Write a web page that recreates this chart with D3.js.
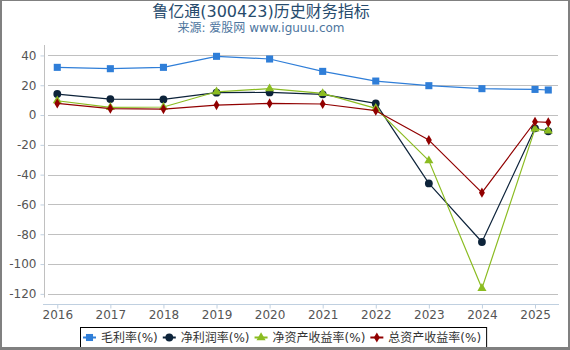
<!DOCTYPE html>
<html>
<head>
<meta charset="utf-8">
<script src="https://cdn.jsdelivr.net/npm/d3@7/dist/d3.min.js"></script>
<style>
  body { margin: 0; background: #fff; }
  svg { display: block; font-family: "DejaVu Sans", "Noto Sans CJK SC", sans-serif; }
</style>
</head>
<body>
<div id="chart-area"></div>
<script>
// Data
const periods = [2016, 2017, 2018, 2019, 2020, 2021, 2022, 2023, 2024, 2025, 2025.25];
const grossMargin = [32.0, 31.1, 32.0, 39.4, 37.6, 29.3, 22.8, 19.7, 17.7, 17.2, 16.8];
const netMargin = [14.1, 10.7, 10.5, 15.0, 15.2, 13.9, 7.8, -45.9, -85.2, -8.9, -10.9];
const roe = [9.6, 5.2, 5.4, 15.6, 17.7, 14.5, 4.5, -30.6, -116.3, -9.3, -10.6];
const roa = [7.8, 4.3, 4.0, 6.7, 7.8, 7.4, 2.9, -16.8, -52.1, -4.5, -4.9];
const yearTicks = [2016, 2017, 2018, 2019, 2020, 2021, 2022, 2023, 2024, 2025];
const valueTicks = [-120, -100, -80, -60, -40, -20, 0, 20, 40];

const series = [
    { name: '毛利率(%)', values: grossMargin, color: '#2f7ed8', symbol: 'square' },
    { name: '净利润率(%)', values: netMargin, color: '#0d233a', symbol: 'circle' },
    { name: '净资产收益率(%)', values: roe, color: '#8bbc21', symbol: 'triangle' },
    { name: '总资产收益率(%)', values: roa, color: '#910000', symbol: 'diamond' }
];

const W = 570, H = 350;
const plot = { left: 44, right: 558, top: 45, bottom: 304 };

const svg = d3.select('#chart-area')
    .append('svg')
        .attr('width', W)
        .attr('height', H);

// Scales
const x = d3.scaleLinear()
    .domain([2015.75, 2025.433])
    .range([plot.left, plot.right]);

const y = d3.scaleLinear()
    .domain([-126.8, 47])
    .range([plot.bottom, plot.top]);

// Title
svg.append('text')
    .attr('x', 261)
    .attr('y', 17)
    .attr('text-anchor', 'middle')
    .attr('font-size', '16px')
    .attr('fill', '#274b6d')
    .text('鲁亿通(300423)历史财务指标');

svg.append('text')
    .attr('x', 261)
    .attr('y', 32)
    .attr('text-anchor', 'middle')
    .attr('font-size', '12px')
    .attr('fill', '#4d759e')
    .text('来源: 爱股网 www.iguuu.com');

// Grid lines
svg.append('g')
    .selectAll('line')
    .data(valueTicks)
    .enter()
    .append('line')
        .attr('x1', plot.left + 4)
        .attr('x2', plot.right)
        .attr('y1', (d) => Math.round(y(d)) + 0.5)
        .attr('y2', (d) => Math.round(y(d)) + 0.5)
        .attr('stroke', '#c0c0c0')
        .attr('stroke-width', 1);

// Y axis
const yAxisGroup = svg.append('g')
    .attr('transform', 'translate(' + (plot.left + 0.5) + ', 0)')
    .call(d3.axisLeft(y)
        .tickValues(valueTicks)
        .tickFormat((d) => String(d))
        .tickSize(4)
        .tickPadding(4));
yAxisGroup.select('.domain').remove();
yAxisGroup.selectAll('.tick line').attr('stroke', '#c0d0e0');
yAxisGroup.selectAll('.tick text')
    .attr('font-size', '12px')
    .attr('font-family', '"DejaVu Sans", sans-serif')
    .attr('fill', '#555');
yAxisGroup.append('line')
    .attr('x1', 0).attr('x2', 0)
    .attr('y1', y(47)).attr('y2', y(-122.5))
    .attr('stroke', '#c0c0c0');

// X axis
const xAxisGroup = svg.append('g')
    .attr('transform', 'translate(0, ' + (plot.bottom + 0.5) + ')')
    .call(d3.axisBottom(x)
        .tickValues(yearTicks)
        .tickFormat(d3.format('d'))
        .tickSize(4)
        .tickSizeOuter(0)
        .tickPadding(2));
xAxisGroup.select('.domain')
    .attr('stroke', '#c0d0e0')
    .attr('d', 'M' + (plot.left - 1) + ',0H' + (plot.right + 1));
xAxisGroup.selectAll('.tick line').attr('stroke', '#c0d0e0');
xAxisGroup.selectAll('.tick text')
    .attr('font-size', '12px')
    .attr('font-family', '"DejaVu Sans", sans-serif')
    .attr('fill', '#555');

// Symbols
const symbolType = {
    square: d3.symbolSquare,
    circle: d3.symbolCircle,
    triangle: d3.symbolTriangle,
    diamond: d3.symbolDiamond
};
const symbolSize = { square: 50, circle: 48, triangle: 36, diamond: 30 };

const line = d3.line()
    .x((d) => x(d.x))
    .y((d) => y(d.v));

// Series
series.forEach((s) => {
    const pts = periods.map((p, i) => ({ x: p, v: s.values[i] }));
    const g = svg.append('g');

    g.append('path')
        .datum(pts)
        .attr('fill', 'none')
        .attr('stroke', s.color)
        .attr('stroke-width', 1.2)
        .attr('stroke-linejoin', 'round')
        .attr('d', line);

    g.selectAll('path.marker')
        .data(pts)
        .enter()
        .append('path')
            .attr('class', 'marker')
            .attr('transform', (d) => 'translate(' + x(d.x) + ',' + y(d.v) + ')')
            .attr('d', d3.symbol().type(symbolType[s.symbol]).size(symbolSize[s.symbol]))
            .attr('fill', s.color);
});

// Legend
const legend = svg.append('g');
const legendBox = legend.append('rect')
    .attr('x', 80.5)
    .attr('y', 327.5)
    .attr('height', 22)
    .attr('fill', '#fff')
    .attr('stroke', '#000')
    .attr('stroke-width', 1);

let lx = 83;
series.forEach((s) => {
    legend.append('line')
        .attr('x1', lx).attr('x2', lx + 13)
        .attr('y1', 337.5).attr('y2', 337.5)
        .attr('stroke', s.color)
        .attr('stroke-width', 2);
    legend.append('path')
        .attr('transform', 'translate(' + (lx + 6.5) + ',337.5)')
        .attr('d', d3.symbol().type(symbolType[s.symbol]).size(symbolSize[s.symbol]))
        .attr('fill', s.color);
    const t = legend.append('text')
        .attr('x', lx + 18)
        .attr('y', 342)
        .attr('font-size', '12px')
        .attr('fill', '#333')
        .text(s.name);
    lx = lx + 18 + t.node().getComputedTextLength() + 5;
});
legendBox.attr('width', Math.min(lx - 80, 409));

// Frame
svg.append('rect').attr('x', 0).attr('y', 0).attr('width', W).attr('height', 1).attr('fill', '#808080');
svg.append('rect').attr('x', 0).attr('y', 0).attr('width', 2).attr('height', H).attr('fill', '#808080');
svg.append('rect').attr('x', W - 2).attr('y', 0).attr('width', 2).attr('height', H).attr('fill', '#808080');
svg.append('rect').attr('x', 0).attr('y', H - 3).attr('width', W).attr('height', 3).attr('fill', '#808080');
</script>
</body>
</html>
